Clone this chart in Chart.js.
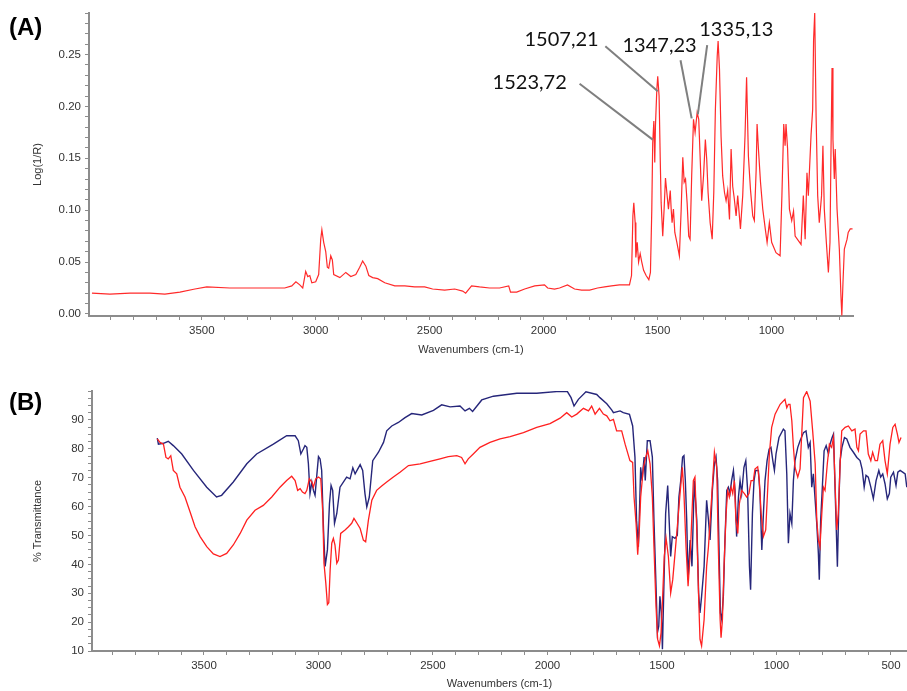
<!DOCTYPE html>
<html>
<head>
<meta charset="utf-8">
<script src="https://cdn.jsdelivr.net/npm/chart.js@4.4.0/dist/chart.umd.min.js"></script>
<style>
  html, body { margin: 0; padding: 0; background: #fff; }
  #page { position: relative; width: 907px; height: 691px; overflow: hidden; }
  .panel { position: absolute; left: 0; width: 907px; }
  .tag { position: absolute; font: bold 24px "Liberation Sans", Arial, sans-serif; color: #000; }
</style>
</head>
<body>
<div id="page">
  <div class="panel" style="top:0;height:357px"><canvas id="chartA" width="907" height="357"></canvas></div>
  <div class="panel" style="top:357px;height:334px"><canvas id="chartB" width="907" height="334"></canvas></div>
  <div class="tag" style="left:9px;top:13px">(A)</div>
  <div class="tag" style="left:9px;top:388px">(B)</div>
</div>
<script>
// ---- panel A: Log(1/R) spectrum ----
const aWave = [
  3982, 3903, 3815, 3728, 3662, 3596, 3530, 3478, 3377, 3245,
  3136, 3105, 3087, 3070, 3057, 3044, 3035, 3026, 3017, 3000,
  2987, 2978, 2973, 2965, 2956, 2949, 2943, 2934, 2927, 2921,
  2894, 2868, 2846, 2824, 2807, 2794, 2780, 2767, 2750, 2728,
  2697, 2653, 2609, 2566, 2522, 2487, 2434, 2390, 2355, 2342,
  2316, 2281, 2237, 2193, 2153, 2145, 2118, 2083, 2039, 1996,
  1982, 1952, 1930, 1895, 1864, 1833, 1798, 1763, 1732, 1702,
  1667, 1623, 1614, 1608, 1604, 1598, 1595, 1589, 1583, 1576,
  1569, 1561, 1550, 1538, 1531, 1525, 1521, 1516, 1512, 1509,
  1503, 1499, 1493, 1488, 1484, 1477, 1471, 1465, 1459, 1452,
  1444, 1440, 1436, 1430, 1424, 1415, 1404, 1396, 1389, 1383,
  1377, 1370, 1363, 1357, 1350, 1342, 1335, 1326, 1319, 1312,
  1306, 1298, 1290, 1284, 1278, 1269, 1260, 1253, 1246, 1238,
  1234, 1228, 1221, 1214, 1206, 1199, 1192, 1184, 1177, 1170,
  1163, 1155, 1148, 1136, 1126, 1116, 1109, 1101, 1092, 1082,
  1075, 1067, 1063, 1057, 1048, 1038, 1027, 1019, 1009, 999,
  980, 962, 954, 946, 940, 936, 929, 921, 911, 903,
  896, 870, 860, 852, 844, 838, 826, 819, 815, 810,
  804, 797, 790, 780, 774, 768, 759, 750, 743, 739,
  734, 730, 724, 720, 712, 702, 695, 691, 686, 680,
  668, 663, 654, 644
];
const aLogR = [
  0.020, 0.019, 0.020, 0.020, 0.019, 0.021, 0.024, 0.026, 0.025, 0.025,
  0.025, 0.027, 0.031, 0.028, 0.025, 0.041, 0.036, 0.037, 0.030, 0.031,
  0.038, 0.072, 0.081, 0.069, 0.060, 0.045, 0.044, 0.056, 0.052, 0.038,
  0.035, 0.040, 0.036, 0.038, 0.045, 0.051, 0.046, 0.037, 0.035, 0.034,
  0.030, 0.027, 0.027, 0.026, 0.026, 0.024, 0.023, 0.024, 0.022, 0.020,
  0.027, 0.026, 0.025, 0.025, 0.027, 0.021, 0.021, 0.024, 0.027, 0.028,
  0.025, 0.024, 0.025, 0.028, 0.024, 0.023, 0.023, 0.025, 0.026, 0.027,
  0.028, 0.028, 0.037, 0.0945, 0.107, 0.088, 0.0545, 0.069, 0.050, 0.058,
  0.050, 0.042, 0.037, 0.033, 0.040, 0.101, 0.165, 0.186, 0.146, 0.181,
  0.216, 0.229, 0.210, 0.149, 0.107, 0.075, 0.101, 0.131, 0.117, 0.101,
  0.119, 0.101, 0.088, 0.101, 0.0785, 0.069, 0.056, 0.101, 0.151, 0.127,
  0.130, 0.107, 0.075, 0.072, 0.133, 0.1875, 0.175, 0.194, 0.1875, 0.146,
  0.109, 0.133, 0.168, 0.149, 0.117, 0.088, 0.072, 0.117, 0.197, 0.248,
  0.263, 0.236, 0.171, 0.133, 0.117, 0.109, 0.119, 0.091, 0.159, 0.123,
  0.111, 0.0945, 0.114, 0.082, 0.114, 0.171, 0.228, 0.152, 0.120, 0.0945,
  0.090, 0.139, 0.183, 0.159, 0.127, 0.101, 0.082, 0.069, 0.088, 0.069,
  0.059, 0.056, 0.114, 0.183, 0.162, 0.183, 0.159, 0.101, 0.090, 0.099,
  0.075, 0.067, 0.114, 0.072, 0.136, 0.114, 0.173, 0.197, 0.264, 0.290,
  0.191, 0.114, 0.088, 0.114, 0.162, 0.101, 0.069, 0.040, 0.069, 0.149,
  0.237, 0.168, 0.130, 0.159, 0.101, 0.0625, 0.018, -0.0015, 0.030, 0.0625,
  0.072, 0.0785, 0.082, 0.082
];

// peak labels in panel A (text position, leader line from / to)
const peakText = ['1523,72', '1507,21', '1347,23', '1335,13'];
const peakTextWave = [2061, 1921, 1491, 1154];
const peakTextVal = [0.223, 0.2644, 0.2587, 0.274];
const leaderFromWave = [1842, 1729, 1399, 1282];
const leaderFromVal = [0.2218, 0.258, 0.2445, 0.259];
const leaderToWave = [1521, 1499, 1350, 1323];
const leaderToVal = [0.168, 0.2147, 0.1885, 0.1923];

// ---- panel B: % transmittance, red and blue spectra ----
const bRedWave = [
  3704, 3692, 3677, 3666, 3656, 3645, 3634, 3619, 3605, 3583,
  3561, 3539, 3517, 3488, 3459, 3430, 3401, 3372, 3342, 3313,
  3277, 3241, 3204, 3168, 3139, 3117, 3102, 3091, 3080, 3070,
  3059, 3051, 3040, 3029, 3022, 3012, 3000, 2990, 2981, 2976,
  2968, 2961, 2955, 2949, 2942, 2935, 2928, 2920, 2913, 2903,
  2884, 2869, 2855, 2845, 2833, 2818, 2804, 2794, 2782, 2767,
  2746, 2724, 2702, 2673, 2644, 2607, 2556, 2513, 2469, 2433,
  2396, 2375, 2360, 2346, 2324, 2295, 2251, 2207, 2163, 2105,
  2047, 1989, 1945, 1916, 1894, 1872, 1843, 1821, 1807, 1792,
  1773, 1756, 1741, 1727, 1712, 1698, 1676, 1661, 1640, 1628,
  1622, 1613, 1606, 1599, 1593, 1581, 1571, 1562, 1552, 1542,
  1535, 1526, 1519, 1511, 1504, 1497, 1490, 1482, 1472, 1462,
  1453, 1443, 1433, 1421, 1411, 1404, 1395, 1386, 1375, 1363,
  1356, 1348, 1340, 1334, 1327, 1316, 1305, 1297, 1283, 1271,
  1261, 1254, 1246, 1242, 1236, 1229, 1220, 1213, 1206, 1198,
  1191, 1184, 1177, 1169, 1162, 1152, 1140, 1130, 1120, 1111,
  1101, 1094, 1082, 1075, 1067, 1057, 1047, 1040, 1031, 1021,
  1006, 984, 963, 955, 948, 941, 933, 926, 919, 907,
  897, 882, 868, 853, 842, 831, 824, 817, 810, 802,
  795, 788, 778, 769, 759, 751, 744, 737, 730, 722,
  715, 700, 686, 671, 657, 649, 642, 635, 620, 609,
  599, 588, 580, 569, 559, 548, 536, 526, 516, 504,
  492, 482, 472, 465, 456
];
const bRedT = [
  83.4, 82.2, 81.6, 77.0, 76.5, 77.6, 72.5, 71.3, 66.7, 63.3,
  58.2, 53.0, 49.6, 46.1, 43.6, 42.7, 43.8, 46.7, 50.7, 55.3,
  58.7, 60.4, 63.3, 66.7, 69.0, 70.5, 69.0, 65.6, 66.2, 65.0,
  64.5, 65.6, 69.6, 68.5, 66.7, 69.6, 70.2, 69.6, 57.6, 40.4,
  33.5, 26.1, 26.7, 38.1, 47.3, 49.0, 46.7, 40.4, 41.5, 50.7,
  51.9, 53.0, 54.2, 55.9, 54.4, 52.4, 48.4, 47.8, 55.3, 62.2,
  65.6, 67.1, 68.5, 70.2, 71.9, 74.2, 74.8, 75.6, 76.5, 77.3,
  77.6, 77.0, 74.8, 76.5, 78.2, 80.5, 82.2, 83.4, 84.2, 85.6,
  87.4, 88.7, 90.6, 92.5, 91.0, 92.0, 94.0, 93.1, 94.8, 92.0,
  94.0, 92.0, 91.4, 89.7, 90.2, 86.2, 86.2, 81.6, 75.9, 75.3,
  63.3, 54.1, 43.3, 51.9, 63.3, 73.6, 77.1, 79.3, 74.8, 63.3,
  46.1, 25.5, 14.1, 11.8, 16.3, 28.9, 42.7, 49.0, 42.7, 30.1,
  34.7, 43.8, 53.0, 64.5, 73.6, 64.5, 46.1, 32.4, 46.1, 69.0,
  70.2, 51.9, 28.9, 14.1, 11.8, 20.9, 39.3, 46.1, 63.3, 78.8,
  73.6, 46.1, 20.9, 14.6, 20.9, 39.3, 57.6, 65.6, 63.3, 66.7,
  64.5, 69.0, 55.3, 50.7, 61.0, 65.6, 64.5, 63.3, 64.5, 69.0,
  69.0, 73.0, 73.8, 69.0, 57.6, 49.6, 51.9, 63.3, 78.2, 87.4,
  92.0, 95.4, 97.1, 94.2, 95.4, 95.4, 89.7, 80.5, 73.6, 70.2,
  73.0, 97.7, 99.8, 96.5, 86.2, 74.8, 55.3, 48.4, 46.1, 57.6,
  66.7, 65.6, 74.8, 81.6, 80.5, 83.9, 67.9, 51.9, 57.6, 74.8,
  86.2, 87.4, 87.9, 86.2, 86.8, 80.5, 79.3, 85.1, 86.2, 86.2,
  78.2, 75.9, 78.8, 75.9, 75.9, 81.6, 82.8, 75.9, 71.3, 81.6,
  87.4, 88.5, 85.1, 82.2, 83.9
];
const bBlueWave = [
  3704, 3699, 3677, 3656, 3634, 3597, 3546, 3488, 3445, 3423,
  3372, 3313, 3270, 3197, 3139, 3102, 3088, 3077, 3066, 3059,
  3051, 3044, 3037, 3029, 3022, 3015, 3008, 3000, 2993, 2986,
  2978, 2971, 2961, 2952, 2945, 2938, 2930, 2920, 2906, 2877,
  2862, 2850, 2840, 2818, 2807, 2797, 2789, 2778, 2763, 2738,
  2716, 2702, 2680, 2651, 2622, 2593, 2549, 2498, 2462, 2425,
  2382, 2360, 2341, 2327, 2287, 2236, 2134, 2047, 1960, 1913,
  1897, 1884, 1865, 1832, 1785, 1771, 1741, 1719, 1712, 1683,
  1669, 1642, 1628, 1618, 1611, 1603, 1599, 1593, 1587, 1578,
  1573, 1564, 1552, 1542, 1535, 1526, 1520, 1514, 1509, 1503,
  1498, 1491, 1484, 1475, 1468, 1462, 1455, 1443, 1433, 1426,
  1418, 1410, 1404, 1398, 1392, 1386, 1377, 1369, 1359, 1348,
  1340, 1334, 1327, 1316, 1305, 1297, 1290, 1280, 1271, 1264,
  1257, 1251, 1245, 1239, 1232, 1225, 1217, 1210, 1203, 1196,
  1188, 1181, 1174, 1166, 1159, 1152, 1142, 1134, 1126, 1118,
  1113, 1105, 1098, 1091, 1079, 1072, 1064, 1057, 1050, 1041,
  1032, 1024, 1016, 1009, 1002, 989, 970, 963, 955, 948,
  941, 933, 926, 919, 907, 897, 882, 871, 861, 853,
  846, 839, 831, 824, 817, 813, 807, 801, 792, 783,
  773, 766, 757, 751, 746, 740, 734, 728, 722, 714,
  703, 693, 679, 664, 649, 635, 626, 617, 609, 599,
  588, 577, 565, 553, 545, 536, 526, 516, 507, 501,
  489, 478, 470, 460, 449, 438, 431
];
const bBlueT = [
  83.7, 81.6, 81.9, 82.6, 81.1, 78.2, 72.5, 66.7, 63.3, 63.9,
  68.5, 74.8, 78.2, 81.6, 84.5, 84.5, 82.8, 78.2, 79.9, 81.1,
  80.5, 74.8, 64.5, 68.5, 65.6, 63.9, 70.2, 77.3, 76.5, 72.5,
  51.9, 39.3, 45.0, 61.0, 67.3, 65.6, 54.2, 57.6, 66.7, 70.2,
  69.6, 73.4, 71.3, 74.5, 72.5, 64.5, 59.9, 63.3, 75.9, 78.8,
  82.2, 86.2, 87.9, 89.1, 90.8, 92.2, 91.7, 93.3, 95.2, 94.5,
  94.8, 93.1, 94.0, 92.9, 96.9, 98.2, 99.2, 99.2, 99.8, 99.8,
  97.7, 94.8, 97.1, 99.7, 98.8, 97.7, 95.6, 93.4, 92.5, 93.1,
  92.5, 91.9, 87.9, 77.1, 55.3, 46.1, 56.4, 73.6, 69.0, 77.1,
  69.0, 82.8, 82.8, 77.1, 55.3, 32.4, 16.3, 18.6, 28.9, 23.2,
  10.6, 34.7, 57.6, 67.3, 54.1, 42.7, 49.6, 49.0, 50.1, 63.3,
  69.0, 77.1, 77.6, 69.0, 55.3, 34.7, 48.4, 39.3, 69.0, 55.3,
  30.1, 23.2, 28.9, 39.3, 62.2, 55.3, 48.4, 65.6, 74.8, 77.1,
  69.0, 46.1, 23.2, 20.9, 28.9, 48.4, 65.6, 66.7, 64.5, 69.0,
  72.5, 65.6, 49.6, 63.3, 69.0, 64.5, 73.6, 75.9, 65.6, 39.3,
  31.2, 57.6, 69.0, 72.5, 72.5, 64.5, 45.0, 57.6, 69.0, 75.9,
  79.9, 80.5, 75.9, 72.5, 78.2, 83.9, 86.8, 86.2, 71.3, 47.3,
  57.6, 54.1, 69.0, 75.9, 80.5, 82.8, 85.6, 86.2, 80.5, 82.2,
  66.7, 71.3, 62.2, 54.1, 43.8, 34.7, 55.3, 64.5, 79.3, 81.1,
  78.2, 81.6, 83.9, 85.1, 71.3, 55.3, 39.2, 59.9, 75.9, 80.5,
  83.9, 83.4, 80.5, 78.8, 77.0, 75.9, 73.0, 66.7, 70.8, 70.2,
  66.7, 62.7, 69.0, 72.5, 70.2, 71.3, 67.9, 62.7, 64.5, 70.2,
  71.9, 67.3, 71.9, 72.5, 71.9, 71.3, 66.7
];

function toPoints(xs, ys) {
  return xs.map((x, i) => ({ x: x, y: ys[i] }));
}

// tick list every `step` between lo and hi (minor ticks, labels only on some)
function stepTicks(lo, hi, step) {
  const out = [];
  for (let v = Math.ceil(lo / step) * step; v <= hi + 1e-9; v += step) {
    out.push({ value: +v.toFixed(4) });
  }
  return out;
}

const axisGray = '#8c8c8c';
const tickFont = { family: '"Liberation Sans", Arial, sans-serif', size: 11.5 };
const titleFont = { family: '"Liberation Sans", Arial, sans-serif', size: 11 };

function xAxis(min, max, height) {
  return {
    type: 'linear',
    reverse: true,
    min: min,
    max: max,
    afterBuildTicks: (s) => { s.ticks = stepTicks(min, max, 100); },
    afterFit: (s) => { s.height = height; s.paddingLeft = 0; s.paddingRight = 0; },
    grid: { drawOnChartArea: false, drawTicks: true, tickLength: 4, color: axisGray },
    border: { display: true, color: axisGray, width: 2 },
    ticks: {
      autoSkip: false, maxRotation: 0, padding: 4, color: '#333', font: tickFont,
      callback: (v) => (Math.round(v) % 500 === 0 ? String(Math.round(v)) : '')
    },
    title: { display: true, text: 'Wavenumbers (cm-1)', color: '#333', font: titleFont, padding: 0 }
  };
}

function yAxis(min, max, step, labelEvery, digits, width, title) {
  return {
    type: 'linear',
    min: min,
    max: max,
    afterBuildTicks: (s) => { s.ticks = stepTicks(Math.max(min, 0), max, step); },
    afterFit: (s) => { s.width = width; s.paddingTop = 0; s.paddingBottom = 0; },
    grid: { drawOnChartArea: false, drawTicks: true, tickLength: 4, color: axisGray },
    border: { display: true, color: axisGray, width: 2 },
    ticks: {
      autoSkip: false, padding: 4, color: '#333', font: tickFont,
      callback: (v) => {
        const k = v / labelEvery;
        return Math.abs(k - Math.round(k)) < 1e-6 && v < max - 1e-9 ? v.toFixed(digits) : '';
      }
    },
    title: { display: true, text: title, color: '#333', font: titleFont, padding: { top: 31, bottom: 0 } }
  };
}

// leader lines + peak numbers on panel A
const peakLabels = {
  id: 'peakLabels',
  afterDatasetsDraw(chart) {
    const { ctx, scales: { x, y } } = chart;
    ctx.save();
    ctx.strokeStyle = '#7f7f7f';
    ctx.lineWidth = 2;
    for (let i = 0; i < peakText.length; i++) {
      ctx.beginPath();
      ctx.moveTo(x.getPixelForValue(leaderFromWave[i]), y.getPixelForValue(leaderFromVal[i]));
      ctx.lineTo(x.getPixelForValue(leaderToWave[i]), y.getPixelForValue(leaderToVal[i]));
      ctx.stroke();
    }
    ctx.font = '20px Lato, "Open Sans", sans-serif';
    ctx.fillStyle = '#111';
    ctx.textAlign = 'center';
    ctx.textBaseline = 'middle';
    for (let i = 0; i < peakText.length; i++) {
      ctx.fillText(peakText[i], x.getPixelForValue(peakTextWave[i]), y.getPixelForValue(peakTextVal[i]));
    }
    ctx.restore();
  }
};

const commonOpts = {
  responsive: false,
  animation: false,
  events: [],
  plugins: { legend: { display: false }, tooltip: { enabled: false } },
  elements: { point: { radius: 0 }, line: { tension: 0 } }
};

new Chart(document.getElementById('chartA'), {
  type: 'line',
  data: {
    datasets: [{
      data: toPoints(aWave, aLogR),
      borderColor: '#ff2a2a',
      borderWidth: 1.2
    }]
  },
  options: Object.assign({}, commonOpts, {
    layout: { padding: { top: 13, right: 54, left: 0, bottom: 0 } },
    scales: {
      x: xAxis(642, 3995, 41),
      y: yAxis(-0.002, 0.29, 0.01, 0.05, 2, 89, 'Log(1/R)')
    }
  }),
  plugins: [peakLabels]
});

new Chart(document.getElementById('chartB'), {
  type: 'line',
  data: {
    datasets: [
      {
        data: toPoints(bRedWave, bRedT),
        borderColor: '#ff2020',
        borderWidth: 1.3
      },
      {
        data: toPoints(bBlueWave, bBlueT),
        borderColor: '#26267a',
        borderWidth: 1.4
      }
    ]
  },
  options: Object.assign({}, commonOpts, {
    layout: { padding: { top: 34, right: 0, left: 0, bottom: 0 } },
    scales: {
      x: xAxis(430, 3989, 40),
      y: yAxis(10, 100, 2.5, 10, 0, 92, '% Transmittance')
    }
  })
});
</script>
</body>
</html>
